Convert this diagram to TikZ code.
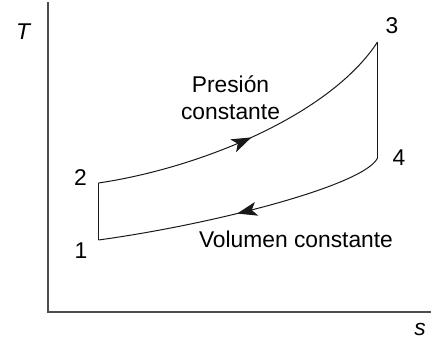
\documentclass[tikz,border=0pt]{standalone}
\usepackage{fontspec}
\setmainfont{Liberation Sans}
\usetikzlibrary{arrows.meta,decorations.markings}
\begin{document}
\begin{tikzpicture}[x=1pt,y=-1pt,
  lbl/.style={font=\fontsize{22.8}{27}\selectfont, inner sep=0pt, anchor=base},
  axis/.style={draw=black!70, line width=1.5pt},
  curve/.style={draw=black!90, line width=1pt},
  midarrow/.style={postaction={decorate,decoration={markings,
     mark=at position #1 with {\arrow{Stealth[length=20pt,width=14pt,inset=5pt]}}}}}]
\useasboundingbox (0,0) rectangle (431,341);
% axes
\coordinate (top) at (48,2);
\coordinate (orig) at (48,312);
\coordinate (right) at (431,312);
\draw[axis] (top) -- (orig) -- (right);
% cycle points
\coordinate (p1) at (98.5,240);
\coordinate (p2) at (98.5,183);
\coordinate (p3) at (377.5,42);
\coordinate (p4) at (377.5,158);
\draw[curve] (p1) -- (p2);
\draw[curve] (p3) -- (p4);
\draw[curve,midarrow=0.5] (p2) .. controls (200,168) and (330,115) .. (p3);
\draw[curve,midarrow=0.52] (p4) .. controls (365,185) and (215,224) .. (p1);
% labels
\node[lbl] (T) at (23,39) {\itshape T};
\node[lbl] (s) at (420,335) {\itshape s};
\node[lbl] (n1) at (81,258) {1};
\node[lbl] (n2) at (80.5,185) {2};
\node[lbl] (n3) at (392,33) {3};
\node[lbl] (n4) at (399,165) {4};
\node[lbl] (pres) at (230.5,92) {Presión};
\node[lbl] (cons) at (230.5,119) {constante};
\node[lbl] (vol) at (296,247) {Volumen constante};
\end{tikzpicture}
\end{document}
